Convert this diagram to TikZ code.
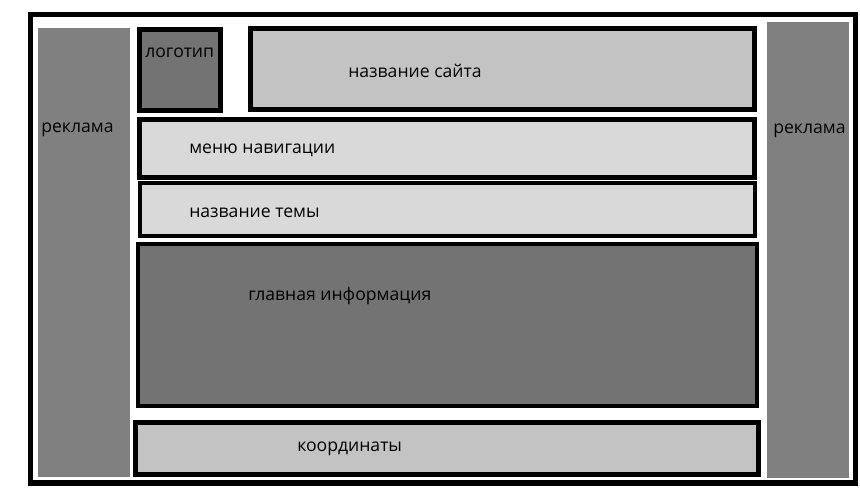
\documentclass[tikz,border=0pt]{standalone}
\usepackage{fontspec}
\setmainfont{Open Sans}
\usepackage{xcolor}
\definecolor{adgray}{HTML}{808080}
\definecolor{darkbox}{HTML}{737373}
\definecolor{midbox}{HTML}{C3C3C3}
\definecolor{lightbox}{HTML}{D9D9D9}

\begin{document}
\begin{tikzpicture}[x=0.75pt, y=-0.75pt,
    every node/.style={font=\fontsize{13.2}{15}\selectfont, inner sep=0pt, anchor=base west},
    block/.style={draw=black, line width=3.75pt},
    thinblock/.style={draw=black, line width=2.6pt}]
  \useasboundingbox[fill=white] (0,0) rectangle (860,487);
  % page frame
  \draw[line width=4.2pt] (30.5,14.5) rectangle (855.5,483);
  % advertising columns
  \fill[adgray] (38,28) rectangle (130,477);
  \fill[adgray] (767,22) rectangle (849,478);
  % header
  \draw[block, fill=darkbox] (139.5,29.5) rectangle (220.5,110.5);
  \draw[block, fill=midbox] (250.5,28.5) rectangle (754.5,109.5);
  % navigation and topic
  \draw[block, fill=lightbox] (139.5,119.5) rectangle (754,177.5);
  \draw[thinblock, fill=lightbox] (139.8,182.8) rectangle (755.2,236.2);
  % main content
  \draw[thinblock, fill=darkbox] (137.8,243.8) rectangle (757.2,406.2);
  % footer
  \draw[block, fill=midbox] (135.5,422.5) rectangle (758.5,474.5);

  % labels
  \node (logo) at (145,57.5) {логотип};
  \node (sitename) at (348,77) {название сайта};
  \node (menu) at (189,153) {меню навигации};
  \node (topic) at (189,217) {название темы};
  \node (content) at (248,300.5) {главная информация};
  \node (contacts) at (297,451) {координаты};
  \node (adleft) at (41,132) {реклама};
  \node (adright) at (773,133) {реклама};
\end{tikzpicture}
\end{document}
